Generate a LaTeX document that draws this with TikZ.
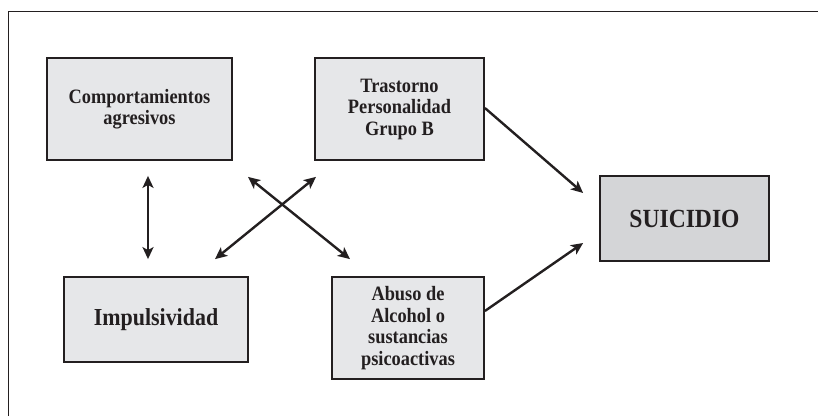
\documentclass[tikz,border=0pt]{standalone}
\usepackage{fontspec}
\setmainfont{Liberation Serif}
\newfontfamily\boxfont{Liberation Serif}[FakeStretch=0.9]
\usetikzlibrary{arrows.meta}
\definecolor{boxfill}{HTML}{E6E7E9}
\definecolor{suifill}{HTML}{D4D5D7}
\definecolor{ink}{HTML}{231F20}
\tikzset{
  box/.style={draw=ink, line width=1.8pt, fill=boxfill, inner sep=0pt, align=center,
    font=\boxfont\bfseries\fontsize{20.4}{21.5}\selectfont, text=ink},
  tip/.tip={Stealth[length=12pt,width=11pt,inset=3pt]},
  conn/.style={draw=ink, line width=2.4pt, -tip},
  dbl/.style={draw=ink, line width=2.4pt, tip-tip}
}
\begin{document}
\begin{tikzpicture}[x=1pt,y=1pt]
\useasboundingbox (0,0) rectangle (818,416);
\fill[white] (0,0) rectangle (818,416);
\draw[ink, line width=1pt] (8,0) -- (8,404) -- (818,404);
\node[box, minimum width=185pt, minimum height=102pt] (comp) at (139.5,307) {Comportamientos\\agresivos};
\node[box, minimum width=169pt, minimum height=102pt] (tras) at (399.5,307) {Trastorno\\Personalidad\\Grupo B};
\node[box, fill=suifill, minimum width=169pt, minimum height=85pt, font=\boxfont\bfseries\fontsize{26.2}{30}\selectfont] (sui) at (684.5,197.5) {SUICIDIO};
\node[box, minimum width=184pt, minimum height=85pt, font=\boxfont\bfseries\fontsize{24.4}{28}\selectfont] (imp) at (156,96.5) {Impulsividad};
\node[box, minimum width=152pt, minimum height=102pt] (abu) at (408,88) {Abuso de\\Alcohol o\\sustancias\\psicoactivas};
\draw[dbl] ([xshift=8.5pt,yshift=-15pt]comp.south) -- ([xshift=-8pt,yshift=17pt]imp.north);
\draw[dbl] ([xshift=59pt,yshift=17pt]imp.north) -- ([xshift=-83.5pt,yshift=-16pt]tras.south);
\draw[dbl] ([xshift=108.5pt,yshift=-16pt]comp.south) -- ([xshift=-58pt,yshift=17pt]abu.north);
\draw[conn] ([yshift=1pt]tras.east) -- ([xshift=-16pt,yshift=25.5pt]sui.west);
\draw[conn] ([yshift=17pt]abu.east) -- ([xshift=-16pt,yshift=-24.5pt]sui.west);
\end{tikzpicture}
\end{document}
